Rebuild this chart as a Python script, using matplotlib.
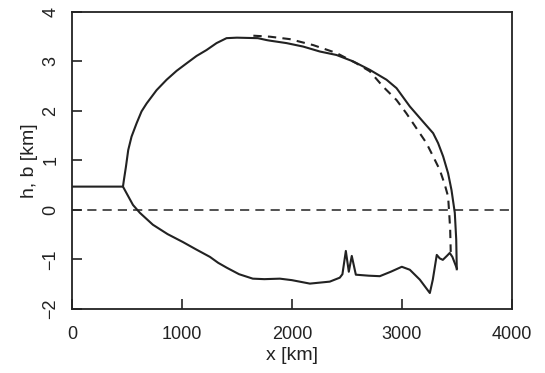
import numpy as np
import matplotlib
matplotlib.use("Agg")
import matplotlib.pyplot as plt

plt.rcParams['font.family'] = ['Liberation Sans', 'DejaVu Sans']

# Ice surface h (solid)
xs = [0, 464, 473, 491, 512, 542, 588, 633, 679, 770, 861, 952, 1042, 1133,
      1224, 1315, 1406, 1500, 1691, 1773, 1800, 1952, 2103, 2255, 2406, 2558,
      2709, 2861, 2952, 3073, 3194, 3285, 3330, 3376, 3421, 3452, 3482, 3495, 3500]
hs = [0.47, 0.47, 0.61, 0.87, 1.21, 1.48, 1.75, 1.99, 2.15, 2.42, 2.63, 2.81,
      2.96, 3.11, 3.23, 3.37, 3.47, 3.48, 3.47, 3.43, 3.42, 3.37, 3.30, 3.20,
      3.13, 3.0, 2.83, 2.63, 2.46, 2.09, 1.78, 1.55, 1.35, 1.08, 0.74, 0.40,
      -0.06, -0.6, -1.2]

# Bed b (solid)
xb = [464, 555, 618, 736, 870, 1009, 1130, 1255, 1330, 1409, 1520, 1645, 1750,
      1891, 2000, 2164, 2345, 2436, 2460, 2491, 2518, 2545, 2582, 2700, 2800,
      2900, 3000, 3073, 3164, 3255, 3282, 3318, 3345, 3373, 3410, 3436, 3460, 3500]
bb = [0.47, 0.1, -0.06, -0.3, -0.49, -0.65, -0.8, -0.95, -1.07, -1.17, -1.3,
      -1.39, -1.40, -1.39, -1.42, -1.49, -1.45, -1.37, -1.30, -0.83, -1.25,
      -0.93, -1.31, -1.33, -1.34, -1.25, -1.15, -1.21, -1.41, -1.68, -1.41,
      -0.91, -0.98, -1.01, -0.93, -0.87, -0.95, -1.18]

# Comparison surface (dashed)
xd = [1650, 1800, 1982, 2194, 2406, 2588, 2709, 2830, 2952, 3042, 3133, 3224,
      3285, 3345, 3391, 3421, 3432, 3440, 3445]
hd = [3.52, 3.50, 3.45, 3.33, 3.17, 2.96, 2.80, 2.49, 2.22, 1.95, 1.65, 1.35,
      1.08, 0.81, 0.51, 0.27, -0.1, -0.4, -0.85]

# Sea level
xsea = [0, 4000]
ysea = [0, 0]

fig = plt.figure(figsize=(5.45, 3.73), dpi=100)
ax = fig.add_axes([0.132, 0.172, 0.807, 0.796])

ax.plot(xs, hs, color='#222222', lw=1.5)
ax.plot(xb, bb, color='#222222', lw=1.5)
ax.plot(xd, hd, color='#222222', lw=1.5, dashes=(4, 3))
ax.plot(xsea, ysea, color='#222222', lw=1.1, dashes=(6, 4))

ax.set_xlim(0, 4000)
ax.set_ylim(-2, 4)
ax.set_xticks([0, 1000, 2000, 3000, 4000])
ax.set_yticks([-2, -1, 0, 1, 2, 3, 4])
ax.set_yticklabels(['\u22122', '\u22121', '0', '1', '2', '3', '4'], rotation=90, va='center')
ax.tick_params(direction='in', length=7, width=1.2, labelsize=13, colors='#222222')
ax.tick_params(axis='x', pad=12)
ax.tick_params(axis='y', pad=9)
for s in ax.spines.values():
    s.set_linewidth(1.3)
    s.set_color('#222222')

ax.set_xlabel('x [km]', fontsize=14, color='#222222', labelpad=3)
ax.set_ylabel('h, b [km]', fontsize=14, color='#222222', labelpad=3)

fig.savefig('out.png', dpi=100)
